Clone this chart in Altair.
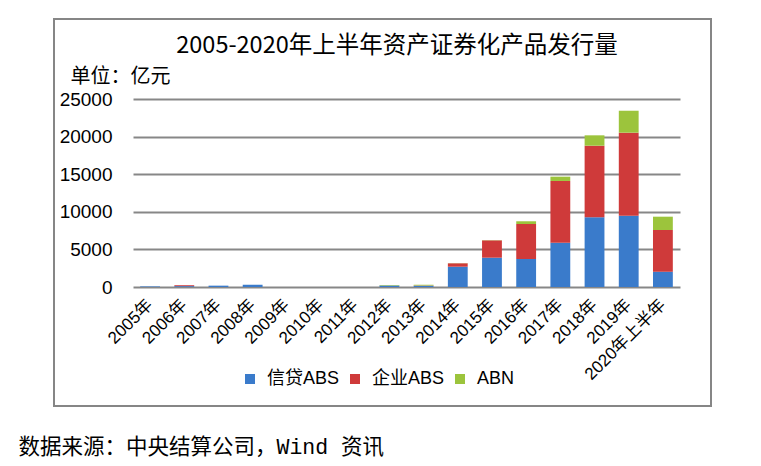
import altair as alt
import pandas as pd

years = ["2005年", "2006年", "2007年", "2008年", "2009年", "2010年", "2011年", "2012年",
         "2013年", "2014年", "2015年", "2016年", "2017年", "2018年", "2019年", "2020年上半年"]
credit_abs = [72, 116, 178, 302, 0, 0, 0, 193, 158, 2700, 3900, 3720, 5890, 9270, 9480, 2040]
corp_abs = [0, 120, 0, 0, 0, 0, 0, 20, 40, 450, 2300, 4660, 8210, 9520, 11040, 5540]
abn = [0, 0, 0, 0, 0, 0, 0, 57, 100, 20, 30, 360, 570, 1380, 2920, 1770]
series = ["信贷ABS", "企业ABS", "ABN"]
colors = ["#3A7BCB", "#CF3A3A", "#9CC43C"]
y_ticks = [0, 5000, 10000, 15000, 20000, 25000]

chart_title = "2005-2020年上半年资产证券化产品发行量"
unit_label = "单位：亿元"
source_label = "数据来源：中央结算公司，Wind 资讯"

rows = []
for i, yr in enumerate(years):
    for j, (s, vals) in enumerate(zip(series, [credit_abs, corp_abs, abn])):
        rows.append({"year": yr, "series": s, "order": j, "value": vals[i]})
df = pd.DataFrame(rows)

CJK = "Noto Sans CJK SC"

bars = alt.Chart(df).mark_bar().encode(
    x=alt.X("year:N", sort=years,
            scale=alt.Scale(paddingInner=0.42, paddingOuter=0.21),
            axis=alt.Axis(title=source_label, titleX=-115, titleY=160,
                          titleAlign="left", titleBaseline="middle", titleAngle=0,
                          titleFont="Liberation Mono, Noto Sans CJK SC", titleFontSize=21.5,
                          titleFontWeight="normal", titleColor="black",
                          labelAngle=-45, labelAlign="right", labelBaseline="middle",
                          labelFont="Liberation Sans, Noto Sans CJK SC", labelFontSize=17,
                          labelColor="black", labelPadding=15, ticks=False, domain=False)),
    y=alt.Y("value:Q", stack="zero",
            scale=alt.Scale(domain=[0, 25000], nice=False),
            axis=alt.Axis(values=y_ticks, format="d", title=unit_label,
                          titleAngle=0, titleX=-63, titleY=-23, titleAlign="left",
                          titleBaseline="middle", titleFont=CJK, titleFontSize=20,
                          titleFontWeight="normal", titleColor="black",
                          grid=True, gridColor="#878787", gridWidth=2,
                          domain=False, ticks=False, labelPadding=21,
                          labelFont="Liberation Sans", labelFontSize=19, labelColor="black")),
    color=alt.Color("series:N", sort=series,
                    scale=alt.Scale(domain=series, range=colors),
                    legend=alt.Legend(title=None, orient="none", direction="horizontal",
                                      legendX=108, legendY=271, symbolType="square",
                                      symbolSize=100, symbolStrokeWidth=0,
                                      labelFont="Liberation Sans, Noto Sans CJK SC",
                                      labelFontSize=18, labelColor="black",
                                      labelOffset=8, columnPadding=6)),
    order=alt.Order("order:Q"),
)

frame = alt.Chart(pd.DataFrame({"k": [0]})).mark_rect(
    fillOpacity=0, stroke="#868686", strokeWidth=2
).encode(x=alt.value(-79), x2=alt.value(578), y=alt.value(-80), y2=alt.value(307))

title = alt.Chart(pd.DataFrame({"t": [chart_title]})).mark_text(
    font=CJK, fontSize=23.5, color="black", align="center", baseline="middle"
).encode(x=alt.value(264), y=alt.value(-53), text="t:N")

chart = alt.layer(frame, bars, title).properties(
    width=547, height=188,
    autosize=alt.AutoSizeParams(type="none"),
    padding={"left": 125, "top": 91, "right": 73, "bottom": 171},
).configure_view(stroke=None)

chart.save("out.html", embed_options={"renderer": "svg", "actions": False})
